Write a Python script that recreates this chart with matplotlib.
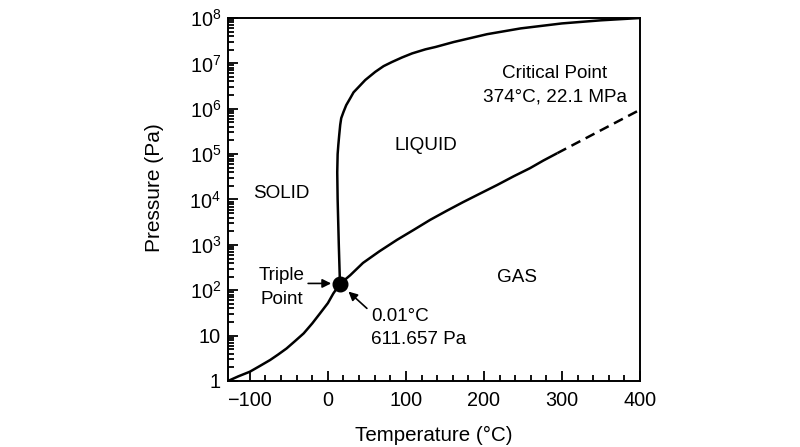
import numpy as np
import matplotlib
matplotlib.use('Agg')
import matplotlib.pyplot as plt
from matplotlib.ticker import FixedLocator, FixedFormatter, LogLocator, NullFormatter

plt.rcParams['font.family'] = ['Liberation Sans', 'DejaVu Sans']
plt.rcParams['mathtext.fontset'] = 'custom'
plt.rcParams['mathtext.rm'] = 'Liberation Sans'
plt.rcParams['mathtext.it'] = 'Liberation Sans'
plt.rcParams['mathtext.default'] = 'regular'

# sublimation curve (solid / gas), temperature in C, pressure in Pa
subl_T = [-128, -115, -100, -88, -74, -64, -53, -42, -31, -20, -10, 0, 7, 15.5]
subl_P = [1.0, 1.26, 1.6, 2.1, 2.9, 3.8, 5.2, 7.6, 11.2, 18.6, 31, 52, 85, 138]

# vaporization curve (liquid / gas)
vap_T = [15.5, 28.6, 45, 66, 88.6, 110, 131, 152, 173, 195, 217, 238, 259, 276, 294]
vap_P = [138, 214, 400, 720, 1290, 2140, 3550, 5600, 8700, 13500, 20900, 32400, 49000, 72000, 105000]

# dashed extension beyond the solid part
ext_T = [294, 400]
ext_P = [105000, 950000]

# melting curve (solid / liquid)
melt_T = [15.5, 14, 12.5, 12, 12.5, 13.4, 14.5, 15.8, 17.1, 20, 23.5, 28.6, 32.9, 39.3, 47.9,
          60.7, 71.4, 82, 95, 108, 125, 138, 161, 204, 247, 300, 350, 400]
melt_P = [138, 1e3, 1e4, 4e4, 1e5, 1.6e5, 2.6e5, 4.4e5, 6.2e5, 8.5e5, 1.2e6, 1.7e6, 2.3e6,
          3.0e6, 4.3e6, 6.5e6, 8.7e6, 1.07e7, 1.35e7, 1.66e7, 2.04e7, 2.3e7, 2.95e7, 4.4e7,
          5.9e7, 7.6e7, 8.9e7, 1e8]

triple_T = 15.5
triple_P = 138

x_major = [-100, 0, 100, 200, 300, 400]
x_minor = [t for t in range(-80, 400, 20) if t % 100 != 0]
y_major = [1, 10, 1e2, 1e3, 1e4, 1e5, 1e6, 1e7, 1e8]
y_labels = ['1', '10', '$10^2$', '$10^3$', '$10^4$', '$10^5$', '$10^6$', '$10^7$', '$10^8$']

fig = plt.figure(figsize=(8, 4.47), dpi=100)
ax = fig.add_axes([0.285, 0.1477, 0.515, 0.812])

lw = 1.8
ax.plot(subl_T, subl_P, color='black', lw=lw, solid_joinstyle='round')
ax.plot(vap_T, vap_P, color='black', lw=lw, solid_joinstyle='round', solid_capstyle='butt')
ax.plot(ext_T, ext_P, color='black', lw=lw, dashes=(4, 2.4))
ax.plot(melt_T, melt_P, color='black', lw=lw, solid_joinstyle='round')
ax.plot([triple_T], [triple_P], 'o', color='black', markersize=10.5, zorder=5)

ax.set_yscale('log')
ax.set_xlim(-128, 400)
ax.set_ylim(1, 1e8)

ax.xaxis.set_major_locator(FixedLocator(x_major))
ax.xaxis.set_minor_locator(FixedLocator(x_minor))
ax.yaxis.set_major_locator(FixedLocator(y_major))
ax.yaxis.set_major_formatter(FixedFormatter(y_labels))
ax.yaxis.set_minor_locator(LogLocator(base=10, subs=np.arange(2, 10), numticks=20))
ax.yaxis.set_minor_formatter(NullFormatter())

ax.tick_params(which='both', direction='in', top=False, right=False, colors='black', width=1.3)
ax.tick_params(which='major', length=7.5)
ax.tick_params(which='minor', length=4)
ax.tick_params(axis='x', labelsize=14.3, pad=7)
ax.tick_params(axis='y', labelsize=14.3, pad=5)
for s in ax.spines.values():
    s.set_linewidth(1.4)

ax.set_xlabel('Temperature (°C)', fontsize=14.8)
ax.set_ylabel('Pressure (Pa)', fontsize=15)
ax.xaxis.set_label_coords(0.5, -0.125)
ax.yaxis.set_label_coords(-0.155, 0.533)

fs = 13.6
ls = 1.5
ax.text(-59.4, 10**4.13, 'SOLID', fontsize=fs, ha='center', va='center')
ax.text(126, 10**5.18, 'LIQUID', fontsize=fs, ha='center', va='center')
ax.text(242, 10**2.28, 'GAS', fontsize=fs, ha='center', va='center')
ax.text(290.5, 10**6.51, 'Critical Point\n374°C, 22.1 MPa', fontsize=fs,
        ha='center', va='center', linespacing=ls)
ax.text(-58.7, 10**2.06, 'Triple\nPoint', fontsize=fs, ha='center', va='center', linespacing=ls)
ax.text(55.2, 10**1.17, '0.01°C\n611.657 Pa', fontsize=fs, ha='left', va='center', linespacing=ls)

arrow = dict(arrowstyle='-|>', color='black', lw=1.2, mutation_scale=13, shrinkA=0, shrinkB=0)
ax.annotate('', xy=(4.2, 10**2.15), xytext=(-25.3, 10**2.15), arrowprops=arrow)
ax.annotate('', xy=(26.4, 10**1.97), xytext=(50, 10**1.60), arrowprops=arrow)

fig.savefig('out.png', dpi=100)
